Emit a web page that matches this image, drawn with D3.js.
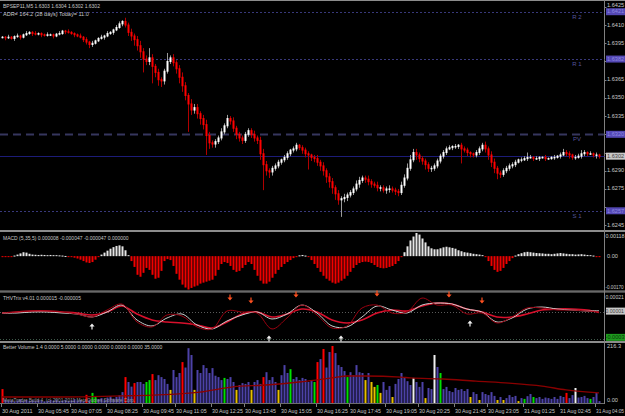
<!DOCTYPE html>
<html>
<head>
<meta charset="utf-8">
<script src="https://cdn.jsdelivr.net/npm/d3@7"></script>
<style>
body { margin: 0; background: #000; }
svg { display: block; font-family: "Liberation Sans Narrow", "Liberation Sans", Arial, sans-serif; }
</style>
</head>
<body>
<svg id="chart" width="625" height="416"></svg>
<script>
// BPSEP11 M5 chart with MACD, THVTrix and Better Volume panels

// Close of each M5 bar, in pips above 1.6200
var closes = [
  200,199.5,200,199,200.5,201,200,202,203,204,
  203,202.5,203,202,201.5,202,202,201,202.5,203,
  205,204.5,204,203,202,201,200,198,196,194,
  195,197,199,200,201,203,204,206,208,211,
  213,210,204,201,198,193,188,182,180,183,
  176,171,165,164,172,180,183,179,174,167,
  160,152,145,140,142,137,133,128,119,113,
  112,114,117,122,127,133,131,125,120,117,
  115,120,123,120,117,115,104,95,90,89,
  92,94,97,99,101,104,107,108,111,109,
  107,104,103,101,100,97,94,90,85,81,
  76,71,66,67,68,70,72,75,79,82,
  84,83,81,79,78,76,76,74,75,75,
  74,73,72,78,84,92,99,105,103,100,
  98,95,92,92,94,98,102,105,108,109,
  110,110,111,108,107,105,104,103,105,108,
  111,108,103,97,92,88,87,90,92,94,
  95,97,99,99,100,101,101,100,100,101,
  101,100,100,101,101,102,103,105,104,103,
  101,101,102,104,105,104,104,103,103,102
];

// Upper and lower wick of each bar, in pips beyond the body
var wickUp = [
  1,1,2,1,1,2,1,1,2,1, 1,2,1,1,1,2,1,1,1,2, 1,1,2,1,1,1,2,1,2,1, 2,1,1,2,1,2,1,1,2,2,
  1,3,2,3,2,3,4,3,3,8, 3,2,3,2,2,7,2,3,2,3, 4,3,2,4,3,3,2,3,4,3, 2,2,2,3,2,3,2,3,2,2,
  2,2,2,2,3,2,3,4,3,2, 2,2,2,1,2,2,1,2,2,1, 2,2,2,1,2,3,2,3,2,3, 3,2,3,2,3,2,2,2,3,3,
  2,2,3,2,2,3,2,2,2,3, 2,2,2,3,3,4,4,3,3,2, 2,2,2,2,2,2,2,2,2,2, 1,2,1,2,2,2,1,1,2,2,
  2,3,2,3,3,2,2,2,2,2, 2,2,1,2,2,4,2,1,2,1, 1,2,1,1,2,1,2,3,2,2, 1,2,2,3,2,1,2,1,2,1
];
var wickDn = [
  1,2,1,1,2,1,2,1,1,1, 2,1,1,2,1,1,1,2,1,1, 1,2,1,1,2,1,1,2,2,3, 2,1,1,1,2,1,1,2,1,1,
  2,2,3,4,5,4,5,11,3,3, 14,4,5,5,3,2,2,3,4,5, 5,4,23,4,3,4,5,4,16,5, 3,3,2,2,2,2,3,3,4,3,
  3,2,2,3,3,3,5,21,4,5, 3,2,2,2,2,2,2,2,2,2, 3,3,12,3,3,3,4,4,5,5, 5,5,4,14,3,3,2,2,2,3,
  2,3,3,3,2,3,3,2,3,3, 2,3,3,2,2,2,2,2,4,3, 3,4,3,3,2,2,2,2,2,1, 2,2,2,12,2,3,3,2,2,2,
  2,3,4,4,4,5,3,2,2,2, 2,2,1,2,1,2,1,2,1,2, 1,2,1,1,2,1,2,1,2,3, 2,2,1,2,2,2,1,2,3,2
];

// Price axis ticks (pips above 1.6200)
var priceTicks = [225,210,195,180,165,150,135,120,105,90,75,60,45];

// Pivot levels
var levelNames = ["R 2", "R 1", "PV", "S 1"];
var levelValues = [221, 182, 120, 57];
var levelLabels = ["1.6421", "1.6382", "1.6320", "1.6257"];
var lastPrice = 102;

// MACD histogram, in units of 0.00001
var macd = [
  -3,-4,-3,-2,3,8,14,20,18,12,
  8,7,6,7,6,5,6,5,5,4,
  3,1,-2,-5,-8,-12,-18,-25,-32,-35,
  -30,-18,-5,8,18,28,38,46,52,55,
  50,30,5,-25,-55,-95,-105,-85,-60,-70,
  -95,-115,-110,-75,-25,-15,-20,-50,-90,-120,
  -145,-160,-170,-162,-155,-150,-140,-135,-130,-125,
  -120,-100,-70,-40,-30,-35,-50,-70,-80,-75,
  -60,-45,-30,-40,-70,-100,-125,-140,-140,-130,
  -110,-90,-70,-55,-40,-30,-20,-10,-3,4,
  6,3,-5,-20,-40,-60,-80,-100,-115,-125,
  -135,-140,-135,-125,-115,-100,-80,-60,-45,-35,
  -30,-28,-30,-35,-45,-55,-60,-62,-60,-55,
  -50,-40,-25,-5,20,50,80,100,118,110,
  90,70,50,40,35,35,40,45,48,45,
  42,38,30,25,20,18,15,12,10,8,
  5,-5,-25,-50,-70,-80,-75,-60,-40,-25,
  -10,3,10,15,20,22,20,18,16,15,
  14,12,12,10,12,14,16,14,12,10,
  10,8,9,10,8,6,5,3,-2,-5
];

// THVTrix lines, units of 0.000001, sampled at these bars
var thvBars = [0,5,10,15,20,25,30,35,40,45,50,55,60,65,70,75,80,85,90,95,
  100,105,110,115,120,125,130,135,140,145,150,155,160,165,170,175,180,185,190,195,199];
var thvSignal = [-11,0,11,11,0,-11,-33,0,66,-22,-88,-110,-121,-143,-176,-110,-22,0,-55,-22,
  33,0,-88,-121,-88,-11,22,11,66,99,88,33,0,-55,-55,-22,22,33,33,22,-5];
var thvMain = [-11,-11,0,0,-11,-22,-55,0,77,-88,-154,-66,-22,-143,-187,-99,-33,0,-77,-22,
  77,-11,-154,-165,-55,66,22,-11,77,99,88,33,0,-110,-66,33,55,33,22,11,15];
var thvFast = [-11,0,11,11,0,-22,-55,22,88,-110,-165,-33,-44,-165,-187,11,0,-11,-187,-66,
  77,-33,-176,-154,44,77,-11,0,154,77,77,-22,-11,-121,-55,44,44,22,22,11,0];
var sellArrows = [[76,154],[83,121],[98,187],[125,198],[149,187],[160,121]];
var buyArrows = [[30,-154],[89,-286],[113,-286],[156,-121]];

// Better Volume
var volumes = [
  51,12,8,10,6,9,14,7,11,8,
  10,7,12,9,6,8,11,9,13,7,
  9,12,8,10,14,9,11,7,30,12,
  37,22,14,18,12,20,25,16,22,28,
  40,95,77,60,73,77,77,70,77,84,
  106,84,102,95,88,70,48,121,95,110,
  150,130,201,176,48,121,110,139,128,110,
  128,100,95,84,92,88,95,77,48,66,
  73,70,77,48,77,84,70,95,113,84,
  95,77,48,102,139,110,124,88,95,84,
  92,88,77,84,77,150,161,198,130,187,
  209,183,139,132,117,95,113,102,139,113,
  110,84,110,77,59,66,37,77,48,62,
  22,70,88,110,95,80,66,92,77,59,
  77,18,55,51,176,132,110,51,59,44,
  40,55,48,51,44,51,22,40,33,11,
  40,33,29,40,26,11,22,11,18,29,
  22,26,7,18,15,25,33,22,18,22,
  15,20,18,15,22,15,26,22,37,18,
  29,55,20,22,26,18,15,22,37,7
];
var redVolBars = [0,28,41,44,50,60,87,105,107,110,188];
var greenVolBars = [30,31,48,49,74,96,104,115,125,146,174,177,196];
var yellowVolBars = [56,64,78,83,92,121,123,124,126,130,141,156,159,165,167,172];
var whiteVolBars = [137,144,191];
var volAvgBars = [0,20,40,50,66,77,88,99,110,115,121,133,136,147,158,169,180,188,199];
var volAvg = [22,22,26,29,40,59,66,77,92,99,99,95,92,88,80,73,62,48,37];

// Time axis
var timeBars = [0,12,23,35,47,58,70,81,93,105,116,128,139,151,162,174,186,198];
var timeLabels = ["30 Aug 2011","30 Aug 05:45","30 Aug 07:05","30 Aug 08:25","30 Aug 09:45",
  "30 Aug 11:05","30 Aug 12:25","30 Aug 13:45","30 Aug 15:05","30 Aug 16:25","30 Aug 17:45",
  "30 Aug 19:05","30 Aug 20:25","30 Aug 21:45","30 Aug 23:05","31 Aug 01:25","31 Aug 02:45",
  "31 Aug 04:05"];

// ---------- layout ----------
var axisX = 604.5;
var textColor = "#c8c8c8";
var gridGray = "#808080";
var fontSize = 6.5;

var svg = d3.select("#chart");
svg.append("rect").attr("width", 625).attr("height", 416).attr("fill", "#000000");

var x = d3.scaleBand().domain(d3.range(closes.length)).range([0.5, 600.5]);
function cx(i) { return x(i) + x.bandwidth() / 2; }

var yPrice = d3.scaleLinear().domain([42, 229]).range([229, 2]);
var yMacd = d3.scaleLinear().domain([-170, 118]).range([289.5, 233]);
var yThv = d3.scaleLinear().domain([-320, 210]).range([341, 293]);
var yVol = d3.scaleLinear().domain([0, 216.3]).range([403, 344]);

function fmtPrice(p) { return (1.62 + p / 10000).toFixed(4); }

// shrink a text until it fits in maxW pixels
function fitText(t, maxW) {
  var size = +t.attr("font-size");
  while (t.node().getComputedTextLength() > maxW && size > 3) {
    size -= 0.25;
    t.attr("font-size", size);
  }
  return t;
}

// left-aligned label inside a panel
function panelText(px, py, label, maxW, color, size) {
  var t = svg.append("text").attr("x", px).attr("y", py)
    .attr("font-size", size || fontSize).attr("fill", color || textColor).text(label);
  return fitText(t, maxW);
}

// right axis text
function axisText(yy, label, color) {
  var t = svg.append("text").attr("x", 607).attr("y", yy).attr("dominant-baseline", "middle")
    .attr("font-size", 5.6).attr("fill", color || textColor).text(label);
  var w = t.node().getComputedTextLength();
  if (w > 17.5) {
    t.attr("x", Math.max(605.5, 624.5 - w));
    fitText(t, 624.5 - Math.max(605.5, 624.5 - w));
  }
  return t;
}

// panel borders
[0.5, 230.5, 231.5, 291, 292, 341.5, 342.5].forEach(function(yy) {
  svg.append("line").attr("x1", 0).attr("x2", 625).attr("y1", yy).attr("y2", yy)
    .attr("stroke", "#8c8c8c").attr("stroke-width", 1);
});
svg.append("line").attr("x1", 0).attr("x2", axisX).attr("y1", 403.5).attr("y2", 403.5)
  .attr("stroke", "#6c6c6c");
svg.append("line").attr("x1", axisX).attr("x2", axisX).attr("y1", 0).attr("y2", 404)
  .attr("stroke", gridGray);

// ---------- main price panel ----------
var main = svg.append("g");

levelValues.forEach(function(v, k) {
  var yy = Math.round(yPrice(v)) + 0.5;
  var line = main.append("line").attr("x1", 0).attr("x2", axisX).attr("y1", yy).attr("y2", yy);
  if (levelNames[k] == "PV")
    line.attr("stroke", "#36365e").attr("stroke-width", 2).attr("stroke-dasharray", "8,5");
  else
    line.attr("stroke", "#38387a").attr("stroke-width", 1).attr("stroke-dasharray", "2,2");
  main.append("text").attr("x", 577).attr("y", yy + 4.5)
    .attr("text-anchor", "middle").attr("dominant-baseline", "middle")
    .attr("font-size", 6).attr("fill", "#55559a").text(levelNames[k]);
});
main.append("line").attr("x1", 0).attr("x2", axisX)
  .attr("y1", Math.round(yPrice(lastPrice)) + 0.5).attr("y2", Math.round(yPrice(lastPrice)) + 0.5)
  .attr("stroke", "#1c1c78");

// candles
var candles = closes.map(function(c, i) {
  var o = i == 0 ? c : closes[i - 1];
  return {
    i: i, open: o, close: c, up: c >= o,
    high: Math.max(o, c) + wickUp[i],
    low: Math.min(o, c) - wickDn[i]
  };
});

var candle = main.selectAll("g.candle").data(candles).enter().append("g").attr("class", "candle");
candle.append("line")
  .attr("x1", function(d) { return cx(d.i) + 0.5; })
  .attr("x2", function(d) { return cx(d.i) + 0.5; })
  .attr("y1", function(d) { return yPrice(d.high); })
  .attr("y2", function(d) { return yPrice(d.low); })
  .attr("stroke", function(d) { return d.up ? "#9a9a9a" : "#b00000"; });
candle.append("rect")
  .attr("x", function(d) { return cx(d.i) - 0.5; })
  .attr("width", 2)
  .attr("y", function(d) { return yPrice(Math.max(d.open, d.close)) - 0.5; })
  .attr("height", function(d) { return Math.max(1.5, yPrice(Math.min(d.open, d.close)) - yPrice(Math.max(d.open, d.close)) + 1); })
  .attr("fill", function(d) { return d.up ? "#ffffff" : "#ff0000"; });

// price axis; labels hidden behind a level box are skipped, near ones nudged away
var boxYs = levelValues.concat([lastPrice]).map(yPrice);
priceTicks.forEach(function(p) {
  var yy = yPrice(p);
  svg.append("line").attr("x1", axisX).attr("x2", axisX + 2).attr("y1", Math.round(yy) + 0.5).attr("y2", Math.round(yy) + 0.5)
    .attr("stroke", gridGray);
  var near = boxYs.reduce(function(a, b) { return Math.abs(b - yy) < Math.abs(a - yy) ? b : a; });
  var dist = Math.abs(near - yy);
  if (dist < 4.5) return;
  if (dist < 6.5) yy = near + (yy < near ? -6.5 : 6.5);
  axisText(yy, fmtPrice(p));
});

// level boxes on the axis
function axisBox(yy, label, fill, color) {
  svg.append("rect").attr("x", 606).attr("y", yy - 3.5).attr("width", 19).attr("height", 7).attr("fill", fill);
  axisText(yy + 0.3, label, color);
}
levelValues.forEach(function(v, k) { axisBox(yPrice(v), levelLabels[k], "#5448b4", "#8f88e0"); });
axisBox(yPrice(lastPrice), fmtPrice(lastPrice), "#c8c8c8", "#404040");

panelText(3, 8, "BPSEP11,M5  1.6303 1.6304 1.6302 1.6302", 100);
panelText(3, 16, "ADR= 164.2  (28 days) Today= 11.0", 87);

// ---------- MACD ----------
svg.append("g").selectAll("rect").data(macd).enter().append("rect")
  .attr("x", function(d, i) { return cx(i) - 0.5; })
  .attr("width", 2)
  .attr("y", function(d) { return Math.min(yMacd(d), yMacd(0)); })
  .attr("height", function(d) { return Math.max(1, Math.abs(yMacd(d) - yMacd(0))); })
  .attr("fill", function(d) { return d >= 0 ? "#e6e6e6" : "#f00000"; });

panelText(3, 240, "MACD (5,35,5) 0.000008 -0.000047 -0.000047 0.000000", 130);
axisText(236.5, "0.00118");
axisText(yMacd(0), "0.00");
axisText(287.5, "-0.00170");

// ---------- THVTrix ----------
svg.append("line").attr("x1", 0).attr("x2", axisX).attr("y1", Math.round(yThv(0)) + 0.5).attr("y2", Math.round(yThv(0)) + 0.5)
  .attr("stroke", "#5a5a5a").attr("stroke-dasharray", "1,2");
svg.append("line").attr("x1", 0).attr("x2", axisX).attr("y1", Math.round(yThv(-300)) + 0.5).attr("y2", Math.round(yThv(-300)) + 0.5)
  .attr("stroke", "#3e5a4a").attr("stroke-dasharray", "1,2");

function thvPath(values, color, widthPx) {
  var line = d3.line()
    .x(function(d, k) { return cx(thvBars[k]); })
    .y(function(d) { return yThv(d); })
    .curve(d3.curveCatmullRom);
  svg.append("path").attr("d", line(values)).attr("fill", "none")
    .attr("stroke", color).attr("stroke-width", widthPx);
}
thvPath(thvSignal, "#d8102c", 1.6);
thvPath(thvMain, "#cfcfcf", 1);
thvPath(thvFast, "#9a0010", 1);

sellArrows.forEach(function(a) {
  var ax = cx(a[0]), ay = yThv(a[1]);
  svg.append("path").attr("d", "M" + (ax - 0.6) + "," + (ay - 3.5) + "h1.2v3h2l-2.6,3l-2.6,-3h2z")
    .attr("fill", "#ff5020");
});
buyArrows.forEach(function(a) {
  var ax = cx(a[0]), ay = yThv(a[1]);
  svg.append("path").attr("d", "M" + (ax - 0.6) + "," + (ay + 3.5) + "h1.2v-3h2l-2.6,-3l-2.6,3h2z")
    .attr("fill", "#f0f0f0");
});

panelText(3, 300, "THVTrix v4.01 0.000015 -0.000005", 79);
axisText(297.5, "0.00021");
axisBox(yThv(10), "0.00001", "#c8c8c8", "#404040");
axisBox(yThv(-280), "-0.0003", "#1e9a1e", "#0a3a0a");

// ---------- Better Volume ----------
function volColor(i) {
  if (redVolBars.indexOf(i) >= 0) return "#ff0000";
  if (greenVolBars.indexOf(i) >= 0) return "#00e000";
  if (yellowVolBars.indexOf(i) >= 0) return "#e8c000";
  if (whiteVolBars.indexOf(i) >= 0) return "#f0f0f0";
  return "#4d42a8";
}
svg.append("g").selectAll("rect").data(volumes).enter().append("rect")
  .attr("x", function(d, i) { return cx(i) - 0.5; })
  .attr("width", 2)
  .attr("y", function(d) { return yVol(d); })
  .attr("height", function(d) { return yVol(0) - yVol(d); })
  .attr("fill", function(d, i) { return volColor(i); });

var avgLine = d3.line()
  .x(function(d, k) { return cx(volAvgBars[k]); })
  .y(function(d) { return yVol(d); })
  .curve(d3.curveMonotoneX);
svg.append("path").attr("d", avgLine(volAvg)).attr("fill", "none")
  .attr("stroke", "#8a0000").attr("stroke-width", 1.3);

panelText(3, 349, "Better Volume 1.4 0.0000 5.0000 0.0000 0.0000 0.0000 0.0000 35.0000", 162);
panelText(3, 401.5, "MetaTrader Build 4, (c) 2001-2011 MetaQuotes Software Corp.", 137, "#9a9a9a", 6);
axisText(346.5, "216.3");
axisText(401, "0.00");

// ---------- time axis ----------
timeBars.forEach(function(b, k) {
  var tx = Math.round(cx(b)) - 0.5;
  svg.append("line").attr("x1", tx).attr("x2", tx).attr("y1", 404).attr("y2", 407).attr("stroke", gridGray);
  panelText(tx + 0.5, 413, timeLabels[k], k == timeBars.length - 1 ? 624.5 - tx - 0.5 : 31, textColor, 6);
});
</script>
</body>
</html>
